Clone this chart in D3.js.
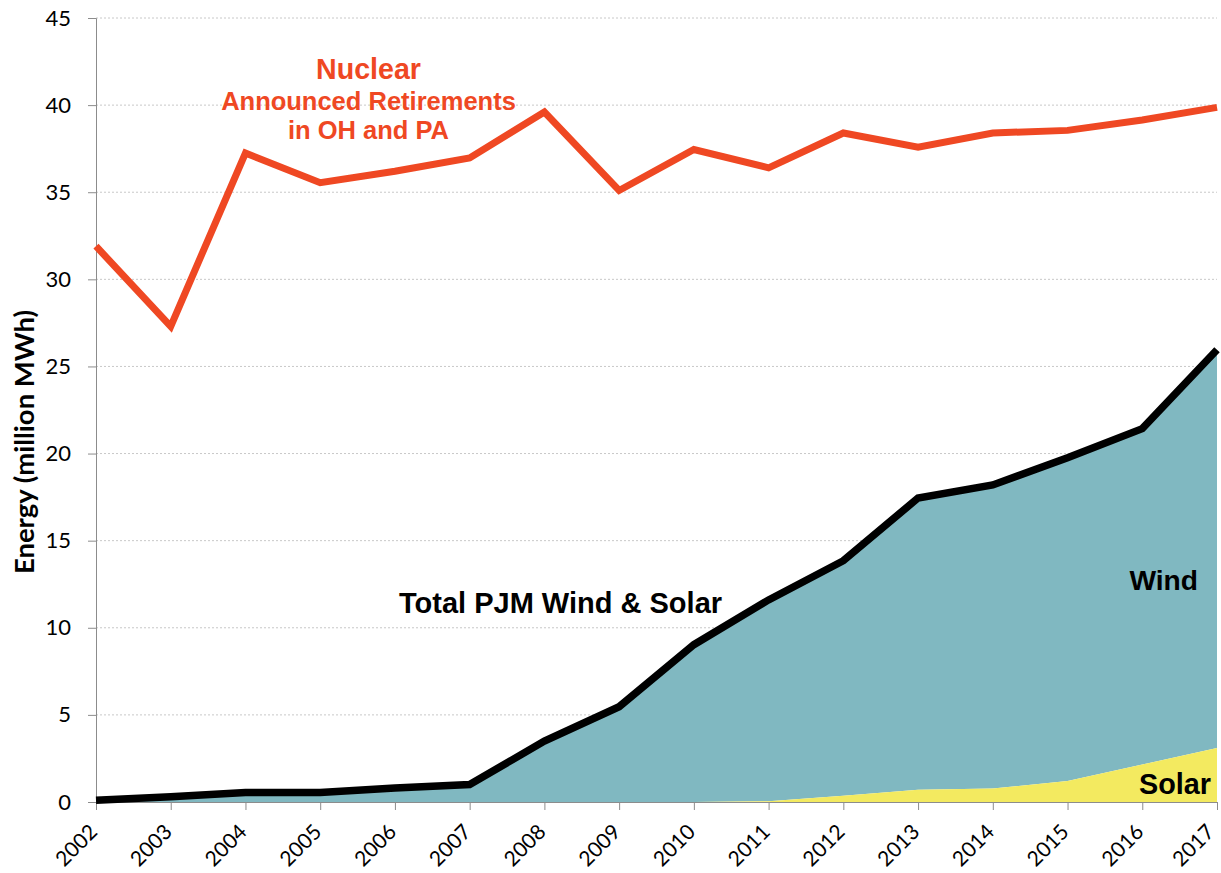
<!DOCTYPE html>
<html>
<head>
<meta charset="utf-8">
<script src="https://cdn.jsdelivr.net/npm/d3@7"></script>
<style>
  body { margin: 0; background: #fff; }
  svg { display: block; }
</style>
</head>
<body>
<div id="chart"></div>
<script>
const years = [2002, 2003, 2004, 2005, 2006, 2007, 2008, 2009, 2010, 2011, 2012, 2013, 2014, 2015, 2016, 2017];
const nuclear = [31.9, 27.3, 37.25, 35.55, 36.2, 36.97, 39.6, 35.1, 37.45, 36.4, 38.4, 37.58, 38.4, 38.55, 39.15, 39.87];
const totalWindSolar = [0.1, 0.3, 0.55, 0.55, 0.8, 1.0, 3.5, 5.47, 9.03, 11.6, 13.85, 17.45, 18.2, 19.76, 21.43, 25.96];
const solar = [0, 0, 0, 0, 0, 0, 0, 0, 0, 0.05, 0.36, 0.7, 0.78, 1.2, 2.15, 3.1];
const yTicks = [0, 5, 10, 15, 20, 25, 30, 35, 40, 45];

const width = 1221;
const height = 873;
const margin = { left: 96, right: 4, top: 18, bottom: 71 };

const svg = d3.select('#chart')
  .append('svg')
  .attr('width', width)
  .attr('height', height);

const x = d3.scaleLinear()
  .domain([2002, 2017])
  .range([margin.left, width - margin.right]);

const y = d3.scaleLinear()
  .domain([0, 45])
  .range([height - margin.bottom, margin.top]);

const data = years.map((yr, i) => ({ yr, total: totalWindSolar[i], solar: solar[i], nuclear: nuclear[i] }));

// gridlines
svg.append('g')
  .selectAll('line')
  .data(yTicks.filter(d => d > 0))
  .enter()
  .append('line')
  .attr('x1', margin.left)
  .attr('x2', width - margin.right)
  .attr('y1', d => y(d))
  .attr('y2', d => y(d))
  .attr('stroke', '#c8c8c8')
  .attr('stroke-width', 1)
  .attr('stroke-dasharray', '2,2');

// wind area (between solar and total)
svg.append('path')
  .datum(data)
  .attr('d', d3.area().x(d => x(d.yr)).y0(d => y(d.solar)).y1(d => y(d.total)))
  .attr('fill', '#80b8c1');

// solar area
svg.append('path')
  .datum(data)
  .attr('d', d3.area().x(d => x(d.yr)).y0(y(0)).y1(d => y(d.solar)))
  .attr('fill', '#f3ea60');

// axes
const yAxis = svg.append('g')
  .attr('transform', `translate(${margin.left},0)`)
  .call(d3.axisLeft(y).tickValues(yTicks).tickSize(8).tickPadding(17));

const xAxis = svg.append('g')
  .attr('transform', `translate(0,${y(0)})`)
  .call(d3.axisBottom(x).tickValues(years).tickFormat(d3.format('d')).tickSize(8));

[yAxis, xAxis].forEach(g => {
  g.select('.domain').attr('stroke', '#8c8c8c');
  g.selectAll('.tick line').attr('stroke', '#8c8c8c');
  g.selectAll('text')
    .attr('fill', '#000')
    .style('font-family', 'Lato, "Open Sans", sans-serif')
    .style('font-size', '22px');
});

// rotated year labels, ending at each tick (last one nudged in from the edge)
xAxis.selectAll('text')
  .style('font-size', '21px')
  .attr('text-anchor', 'end')
  .attr('y', 0)
  .attr('dy', '0.35em')
  .attr('transform', d => d === years[years.length - 1]
    ? 'translate(-7,26) rotate(-45)'
    : 'translate(-3,26) rotate(-45)');

// total wind & solar line
svg.append('path')
  .datum(data)
  .attr('d', d3.line().x(d => x(d.yr)).y(d => y(d.total)))
  .attr('fill', 'none')
  .attr('stroke', '#000')
  .attr('stroke-width', 7.5)
  .attr('stroke-linejoin', 'miter');

// nuclear line
svg.append('path')
  .datum(data)
  .attr('d', d3.line().x(d => x(d.yr)).y(d => y(d.nuclear)))
  .attr('fill', 'none')
  .attr('stroke', '#ef4823')
  .attr('stroke-width', 7)
  .attr('stroke-linejoin', 'miter');

// y axis title
svg.append('text')
  .attr('transform', 'translate(34,442) rotate(-90)')
  .attr('text-anchor', 'middle')
  .style('font-family', 'Lato, "Open Sans", sans-serif')
  .style('font-weight', 'bold')
  .style('font-size', '27.5px')
  .text('Energy (million MWh)');

// annotations
const label = (txt, lx, ly, size, color, anchor) => svg.append('text')
  .attr('x', lx)
  .attr('y', ly)
  .attr('text-anchor', anchor)
  .attr('fill', color)
  .style('font-family', 'Arial, "Liberation Sans", sans-serif')
  .style('font-weight', 'bold')
  .style('font-size', size + 'px')
  .text(txt);

label('Nuclear', 368.5, 79, 28.6, '#ef4823', 'middle');
label('Announced Retirements', 368.5, 110, 25.5, '#ef4823', 'middle');
label('in OH and PA', 368.5, 139, 25.5, '#ef4823', 'middle');
label('Total PJM Wind & Solar', 399, 613, 29, '#000', 'start');
label('Wind', 1198, 590, 28.2, '#000', 'end');
label('Solar', 1211, 794, 28.8, '#000', 'end');
</script>
</body>
</html>
